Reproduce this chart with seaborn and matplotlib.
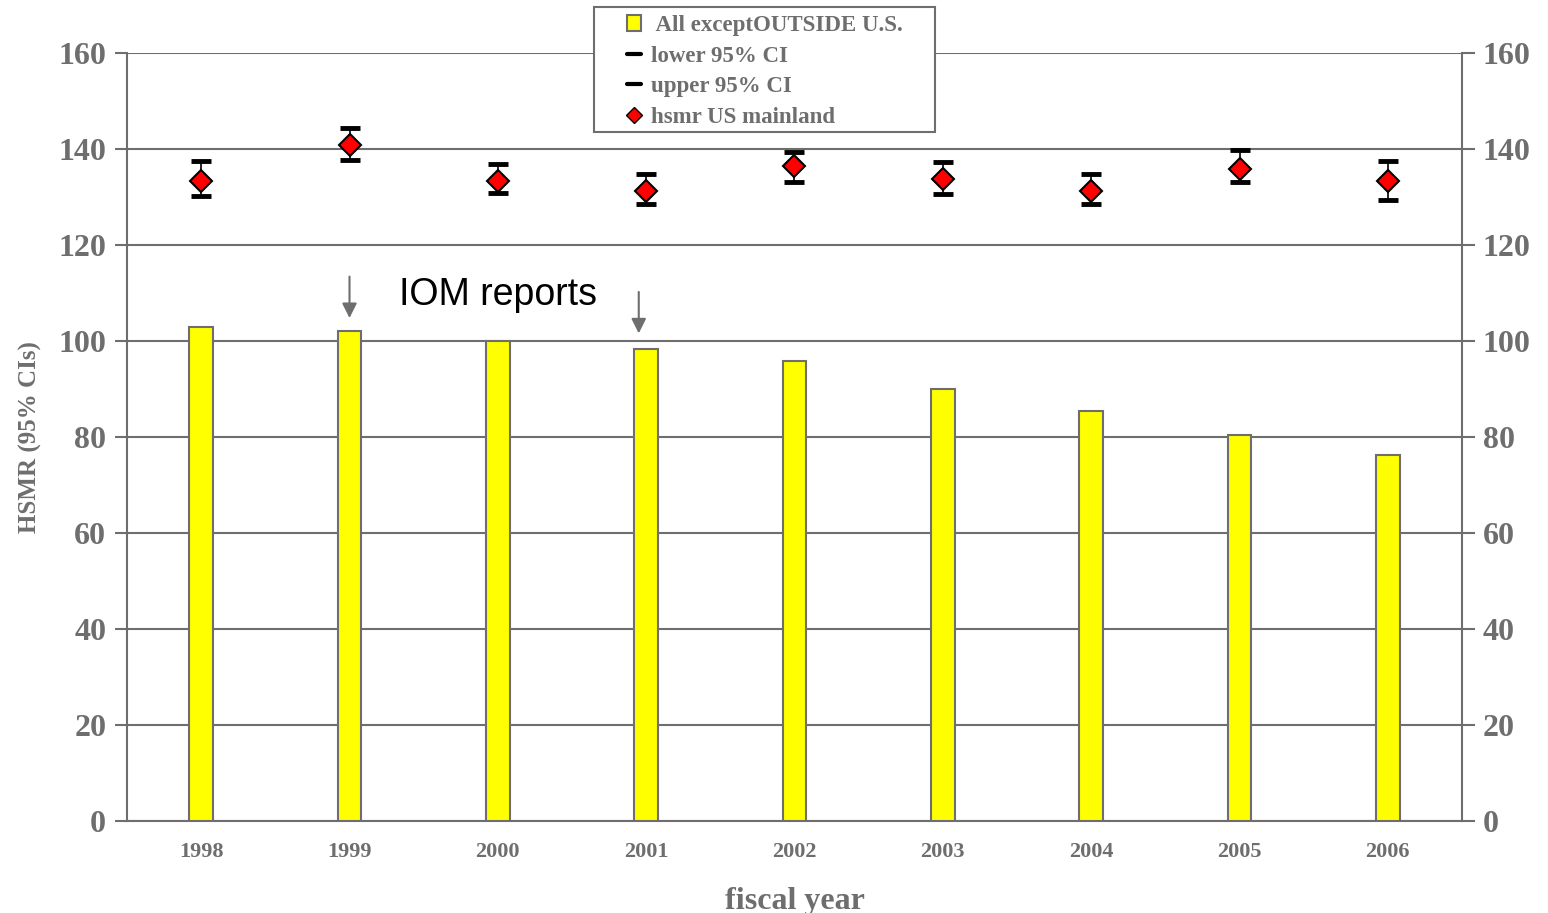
import numpy as np
import pandas as pd
import matplotlib
matplotlib.use("Agg")
import matplotlib.pyplot as plt
from matplotlib.lines import Line2D
from matplotlib.patches import Patch, Rectangle
import seaborn as sns

# data
years = ["1998", "1999", "2000", "2001", "2002", "2003", "2004", "2005", "2006"]
hsmr_all = [102.9, 102.1, 100.0, 98.3, 95.8, 90.0, 85.4, 80.4, 76.2]
hsmr_us = [133.3, 140.8, 133.3, 131.3, 136.5, 133.8, 131.3, 135.8, 133.4]
lower_ci = [130.2, 137.7, 130.8, 128.5, 133.1, 130.6, 128.5, 133.1, 129.4]
upper_ci = [137.5, 144.4, 136.9, 134.8, 139.3, 137.2, 134.8, 139.7, 137.6]

grey = "#6e6e6e"

sns.set_style("white")
plt.rcParams['font.family'] = ['Liberation Serif', 'DejaVu Serif']

df = pd.DataFrame({"year": years, "hsmr": hsmr_all})

fig = plt.figure(figsize=(15.48, 9.13), dpi=100)
ax = fig.add_axes([127 / 1548, 92 / 913, (1462 - 127) / 1548, (821 - 53) / 913])

sns.barplot(data=df, x="year", y="hsmr", ax=ax, color="#ffff00", width=0.16,
            edgecolor=grey, linewidth=1.5, saturation=1, zorder=3)

xpos = np.arange(len(years))
us = np.array(hsmr_us)
yerr = [us - np.array(lower_ci), np.array(upper_ci) - us]
ax.errorbar(xpos, us, yerr=yerr, fmt="none", ecolor="black", elinewidth=1.2,
            capsize=7.5, capthick=3.5, zorder=4)
ax.plot(xpos, us, linestyle="none", marker="D", markersize=11,
        markerfacecolor="#ff0000", markeredgecolor="black", markeredgewidth=1.5, zorder=5)

ax.set_xlim(-0.5, len(years) - 0.5)
ax.set_ylim(0, 160)
ax.set_yticks(np.arange(0, 161, 20))
ax.grid(axis="y", color=grey, linewidth=1.5, zorder=0)
ax.set_axisbelow(True)

for s in ["left", "right", "bottom"]:
    ax.spines[s].set_color(grey)
    ax.spines[s].set_linewidth(1.5)
ax.spines["top"].set_visible(False)

ax.tick_params(axis="y", which="major", length=9, width=1.5, color=grey, direction="out",
               left=True, right=True, labelleft=True, labelright=True,
               labelsize=23, labelcolor=grey, pad=6)
for lab in ax.get_yticklabels():
    lab.set_fontweight("bold")
ax.tick_params(axis="x", which="major", length=0, labelsize=16, labelcolor=grey, pad=15)
ax.set_xticks(np.arange(-0.5, len(years), 1.0), minor=True)
ax.tick_params(axis="x", which="minor", length=9, width=1.5, color=grey, direction="out")
for lab in ax.get_xticklabels():
    lab.set_fontweight("bold")

ax.set_xlabel("fiscal year", fontsize=23, fontweight="bold", color=grey)
ax.xaxis.set_label_coords(0.5, -0.086)
ax.set_ylabel("HSMR (95% CIs)", fontsize=18, fontweight="bold", color=grey)
ax.yaxis.set_label_coords(-0.064, 0.5)

# IOM annotation
ax.text(2.0, 109.5, "IOM reports", fontsize=27, family="Liberation Sans",
        color="black", ha="center", va="center")
ax.annotate("", xy=(1.0, 104.2), xytext=(1.0, 114.0),
            arrowprops=dict(arrowstyle="-|>", color=grey, lw=1.5, mutation_scale=22))
ax.annotate("", xy=(2.95, 101.0), xytext=(2.95, 110.8),
            arrowprops=dict(arrowstyle="-|>", color=grey, lw=1.5, mutation_scale=22))

# legend box drawn separately so its padding matches the original
box = Rectangle((594 / 1548, 1 - 132 / 913), 341 / 1548, 125 / 913,
                transform=fig.transFigure, facecolor="white", edgecolor=grey,
                linewidth=1.5, zorder=5)
fig.patches.append(box)

handles = [
    Patch(facecolor="#ffff00", edgecolor=grey, linewidth=1.5),
    Line2D([], [], color="black", linewidth=3, marker=None),
    Line2D([], [], color="black", linewidth=3, marker=None),
    Line2D([], [], linestyle="none", marker="D", markersize=8,
           markerfacecolor="#ff0000", markeredgecolor="black"),
]
labels = [" All exceptOUTSIDE U.S.", "lower 95% CI", "upper 95% CI", "hsmr US mainland"]
leg = fig.legend(handles, labels, loc="upper left", bbox_to_anchor=(619 / 1548, 1 - 7 / 913),
                 frameon=False, fontsize=16.5,
                 handlelength=0.6, handleheight=0.7, handletextpad=0.45,
                 labelspacing=0.42, borderpad=0.35, borderaxespad=0)
leg.set_zorder(6)
for t in leg.get_texts():
    t.set_color(grey)
    t.set_fontweight("bold")

fig.savefig("out.png", dpi=100)
